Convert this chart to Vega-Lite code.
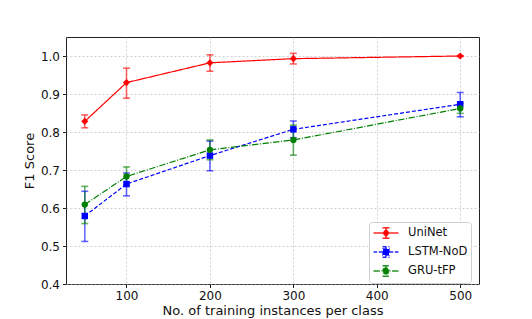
{
  "$schema": "https://vega.github.io/schema/vega-lite/v6.json",
  "width": 413,
  "height": 247,
  "autosize": {"type": "none"},
  "padding": {"left": 66, "top": 37, "right": 53, "bottom": 35},
  "background": "white",
  "data": {
    "values": [
      {"model": "UniNet", "n": 50, "f1": 0.828, "lo": 0.811, "hi": 0.845},
      {"model": "UniNet", "n": 100, "f1": 0.930, "lo": 0.889, "hi": 0.968},
      {"model": "UniNet", "n": 200, "f1": 0.982, "lo": 0.960, "hi": 1.003},
      {"model": "UniNet", "n": 300, "f1": 0.993, "lo": 0.979, "hi": 1.007},
      {"model": "UniNet", "n": 500, "f1": 1.0, "lo": 0.999, "hi": 1.001},
      {"model": "LSTM-NoD", "n": 50, "f1": 0.579, "lo": 0.512, "hi": 0.644},
      {"model": "LSTM-NoD", "n": 100, "f1": 0.663, "lo": 0.632, "hi": 0.692},
      {"model": "LSTM-NoD", "n": 200, "f1": 0.738, "lo": 0.698, "hi": 0.776},
      {"model": "LSTM-NoD", "n": 300, "f1": 0.807, "lo": 0.785, "hi": 0.829},
      {"model": "LSTM-NoD", "n": 500, "f1": 0.873, "lo": 0.840, "hi": 0.904},
      {"model": "GRU-tFP", "n": 50, "f1": 0.609, "lo": 0.559, "hi": 0.657},
      {"model": "GRU-tFP", "n": 100, "f1": 0.683, "lo": 0.660, "hi": 0.708},
      {"model": "GRU-tFP", "n": 200, "f1": 0.753, "lo": 0.727, "hi": 0.779},
      {"model": "GRU-tFP", "n": 300, "f1": 0.779, "lo": 0.739, "hi": 0.818},
      {"model": "GRU-tFP", "n": 500, "f1": 0.862, "lo": 0.849, "hi": 0.875}
    ]
  },
  "config": {
    "font": "DejaVu Sans",
    "view": {"stroke": "#222", "strokeWidth": 1},
    "axis": {
      "labelFont": "DejaVu Sans",
      "labelFontSize": 12,
      "labelColor": "#111",
      "titleFont": "DejaVu Sans",
      "titleFontSize": 13,
      "titleFontWeight": "normal",
      "titleColor": "#111",
      "tickColor": "#222",
      "tickSize": 3.5,
      "labelPadding": 3,
      "domain": false,
      "gridColor": "#b8b8b8",
      "gridDash": [2, 2],
      "gridOpacity": 0.8,
      "gridWidth": 0.8
    }
  },
  "encoding": {
    "x": {
      "field": "n",
      "type": "quantitative",
      "scale": {"domain": [27.5, 522.5], "nice": false, "zero": false},
      "axis": {"values": [100, 200, 300, 400, 500], "title": "No. of training instances per class", "titlePadding": 3, "format": "d"}
    },
    "color": {
      "field": "model",
      "type": "nominal",
      "scale": {"domain": ["UniNet", "LSTM-NoD", "GRU-tFP"], "range": ["#ff0000", "#0000ff", "#008000"]},
      "legend": {
        "title": null,
        "orient": "none",
        "legendX": 303,
        "legendY": 185,
        "padding": 3,
        "strokeColor": "#d0d0d0",
        "fillColor": "white",
        "cornerRadius": 3,
        "labelFont": "DejaVu Sans",
        "labelFontSize": 11.5,
        "labelColor": "#111",
        "symbolOffset": 6,
        "labelOffset": 14,
        "rowPadding": 1,
        "symbolSize": 196,
        "symbolStrokeWidth": 1.5,
        "symbolOpacity": 1,
        "encode": {
          "symbols": {
            "update": {
              "shape": {"signal": "datum.value === 'UniNet' ? 'M-1.786,0H1.786M0,-0.76V0.76M-0.5,-0.76H0.5M-0.5,0.76H0.5M0,-0.5L0.39,0L0,0.5L-0.39,0Z' : datum.value === 'LSTM-NoD' ? 'M-1.786,0H-1.257M-1.029,0H-0.5M0.5,0H1.029M1.257,0H1.786M0,-0.76V0.76M-0.5,-0.76H0.5M-0.5,0.76H0.5M-0.43,-0.43H0.43V0.43H-0.43Z' : 'M-1.786,0H-0.871M-0.643,0H-0.5M0.5,0H0.643M0.871,0H1.786M0,-0.76V0.76M-0.5,-0.76H0.5M-0.5,0.76H0.5M-0.43,0A0.43,0.43,0,1,1,0.43,0A0.43,0.43,0,1,1,-0.43,0Z'"},
              "fill": {"signal": "scale('color', datum.value)"},
              "stroke": {"signal": "scale('color', datum.value)"},
              "opacity": {"value": 1},
              "fillOpacity": {"value": 1},
              "strokeOpacity": {"value": 0.85}
            }
          }
        }
      }
    }
  },
  "layer": [
    {
      "mark": {"type": "rule", "strokeWidth": 1.6, "opacity": 0.6},
      "encoding": {
        "y": {"field": "lo", "type": "quantitative", "scale": {"domain": [0.4, 1.05], "nice": false, "zero": false}},
        "y2": {"field": "hi"}
      }
    },
    {
      "mark": {"type": "tick", "orient": "horizontal", "size": 7, "thickness": 1.6, "opacity": 0.6},
      "encoding": {"y": {"field": "lo", "type": "quantitative"}}
    },
    {
      "mark": {"type": "tick", "orient": "horizontal", "size": 7, "thickness": 1.6, "opacity": 0.6},
      "encoding": {"y": {"field": "hi", "type": "quantitative"}}
    },
    {
      "mark": {"type": "line", "strokeWidth": 1.2},
      "encoding": {
        "y": {"field": "f1", "type": "quantitative"},
        "strokeDash": {
          "field": "model",
          "type": "nominal",
          "scale": {"domain": ["UniNet", "LSTM-NoD", "GRU-tFP"], "range": [[1, 0], [4, 2], [6.4, 1.6, 1, 1.6]]},
          "legend": null
        }
      }
    },
    {
      "transform": [{"filter": "datum.model === 'UniNet'"}],
      "mark": {"type": "point", "filled": true, "opacity": 1, "size": 50, "shape": "diamond"},
      "encoding": {
        "y": {
          "field": "f1",
          "type": "quantitative",
          "axis": {"values": [0.4, 0.5, 0.6, 0.7, 0.8, 0.9, 1.0], "format": ".1f", "title": "F1 Score", "titlePadding": 4}
        }
      }
    },
    {
      "transform": [{"filter": "datum.model === 'LSTM-NoD'"}],
      "mark": {"type": "point", "filled": true, "opacity": 1, "size": 42, "shape": "square"},
      "encoding": {"y": {"field": "f1", "type": "quantitative"}}
    },
    {
      "transform": [{"filter": "datum.model === 'GRU-tFP'"}],
      "mark": {"type": "point", "filled": true, "opacity": 1, "size": 40, "shape": "circle"},
      "encoding": {"y": {"field": "f1", "type": "quantitative"}}
    }
  ]
}
